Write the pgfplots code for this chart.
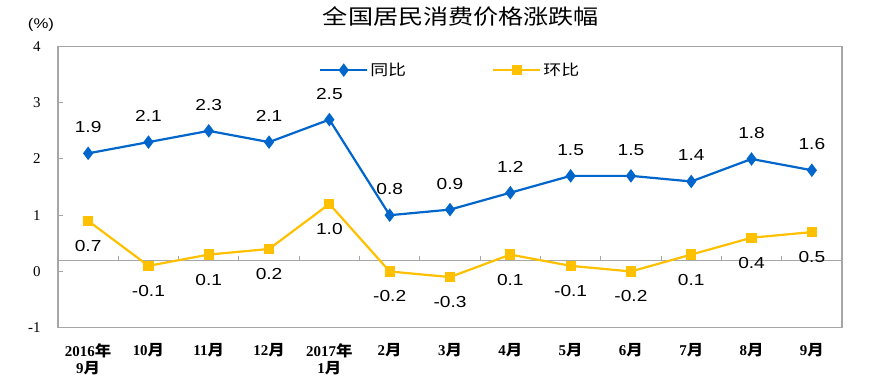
\documentclass[border=0pt]{standalone}
\usepackage{pgfplots}
\pgfplotsset{compat=1.18}
\usepackage{fontspec}
\setmainfont{Liberation Sans}[FakeStretch=1.2]
\newfontfamily\cjk{Noto Sans CJK SC}[FakeStretch=1.2]
\newfontfamily\cjkx{Noto Sans CJK SC}[FakeStretch=1.1]
\newfontfamily\serifnum{Liberation Serif}
\definecolor{tbblue}{HTML}{0066CC}
\definecolor{tbyel}{HTML}{FFC000}
\definecolor{framegray}{HTML}{A6A6A6}
\newcommand{\yue}{{\cjkx 月}}
\newcommand{\nian}{{\cjkx 年}}
\begin{document}
\begin{tikzpicture}
\begin{axis}[
  at={(58bp,64.3bp)}, anchor=south west,
  scale only axis, width=784bp, height=281.2bp,
  xmin=-0.5, xmax=12.5, ymin=-1.2, ymax=3.8,
  /pgf/number format/assume math mode=true,
  axis line style={framegray, line width=1.3bp},
  xtick={0,...,12},
  xticklabels={{2016\nian\\9\yue},{10\yue},{11\yue},{12\yue},{2017\nian\\1\yue},{2\yue},{3\yue},{4\yue},{5\yue},{6\yue},{7\yue},{8\yue},{9\yue}},
  xticklabel style={align=center, font=\serifnum\bfseries\fontsize{15}{18}\selectfont, yshift=-12bp},
  x tick style={draw=none},
  ytick={-1.2,-0.2,0.8,1.8,2.8,3.8},
  yticklabels={-1,0,1,2,3,4},
  ytick pos=left, tick align=inside, major tick length=5bp,
  y tick style={framegray, line width=1bp},
  yticklabel style={font=\serifnum\fontsize{15}{15}\selectfont, xshift=-14bp},
  legend style={draw=none, fill=none, at={(0.329,0.916)}, anchor=west,
    legend columns=2, font=\cjk\fontsize{15}{15}\selectfont,
    /tikz/every even column/.append style={column sep=84bp}},
  legend image code/.code={\draw[mark repeat=2, mark phase=2] plot coordinates {(0bp,0bp) (23.5bp,0bp) (47bp,0bp)};},
  nodes near coords,
  point meta=y,
  nodes near coords={\pgfmathprintnumber[fixed,fixed zerofill,precision=1]{\pgfplotspointmeta}},
]
\draw[framegray, line width=1.2bp] (axis cs:-0.5,0) -- (axis cs:12.5,0);
\pgfplotsinvokeforeach{0.5,1.5,...,11.5}{\draw[framegray, line width=1bp] (axis cs:#1,0) -- ([yshift=4bp]axis cs:#1,0);}
\addplot[tbblue, line width=2.2bp, mark=diamond*, mark size=5bp,
  every node near coord/.style={font=\fontsize{16}{16}\selectfont, text=black, anchor=center, yshift=26bp}]
  coordinates {(0,1.9) (1,2.1) (2,2.3) (3,2.1) (4,2.5) (5,0.8) (6,0.9) (7,1.2) (8,1.5) (9,1.5) (10,1.4) (11,1.8) (12,1.6)};
\addlegendentry{同比}
\addplot[tbyel, line width=2.2bp, mark=square*, mark size=4bp,
  every node near coord/.style={font=\fontsize{16}{16}\selectfont, text=black, anchor=center, yshift=-25bp}]
  coordinates {(0,0.7) (1,-0.1) (2,0.1) (3,0.2) (4,1.0) (5,-0.2) (6,-0.3) (7,0.1) (8,-0.1) (9,-0.2) (10,0.1) (11,0.4) (12,0.5)};
\addlegendentry{环比}
\end{axis}
\node[font=\cjk\fontsize{21}{21}\selectfont] at (461bp,375bp) {全国居民消费价格涨跌幅};
\node[font=\fontsize{14}{14}\selectfont] at (41bp,367bp) {(\%)};
\pgfresetboundingbox
\path[use as bounding box] (0,0) rectangle (870bp,392bp);
\end{tikzpicture}
\end{document}
